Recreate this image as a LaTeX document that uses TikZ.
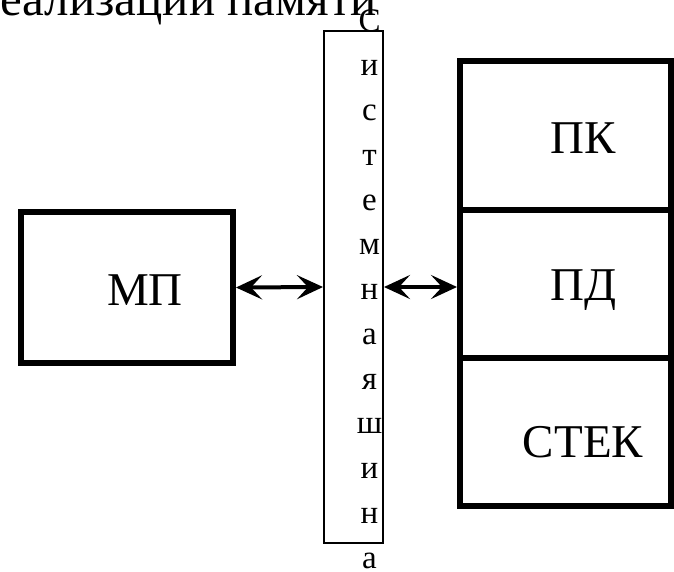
\documentclass[tikz,border=0pt]{standalone}
\usepackage{fontspec}
\setmainfont{Liberation Serif}
\usetikzlibrary{arrows.meta}
\begin{document}
\begin{tikzpicture}[x=1pt,y=-1pt,
  unitbox/.style={draw, line width=6pt, rectangle, inner sep=0pt},
  busbox/.style={draw, line width=2pt, rectangle, inner sep=0pt,
    minimum width=59pt, minimum height=512pt},
  biglabel/.style={font=\fontsize{47pt}{50pt}\selectfont, inner sep=0pt, anchor=base},
  busletter/.style={font=\fontsize{33pt}{36pt}\selectfont, inner sep=0pt, anchor=base},
  link/.style={line width=4pt,
    {Stealth[length=26pt,width=24pt,inset=11pt]}-{Stealth[length=26pt,width=24pt,inset=11pt]}}
]
\useasboundingbox (0,0) rectangle (674,571);
\clip (0,0) rectangle (674,571);

% heading line, running off the top edge
\node[biglabel, anchor=base east, font=\fontsize{49pt}{52pt}\selectfont] (caption) at (377,15) {реализации памяти};

% microprocessor
\node[unitbox, minimum width=212pt, minimum height=151pt] (mp) at (127,287.5) {};
\node[biglabel] (mptext) at (145,305) {МП};

% system bus with its name written letter by letter
\node[busbox] (bus) at (353.5,287) {};
\foreach \ch [count=\i from 0] in {С,и,с,т,е,м,н,а,я,ш,и,н,а}
  \node[busletter] (letter\i) at (369.5,{31+44.75*\i}) {\ch};

% memory: program, data, stack
\node[unitbox, minimum width=211pt, minimum height=149pt] (pk) at (565.5,135.5) {};
\node[unitbox, minimum width=211pt, minimum height=148pt] (pd) at (565.5,284) {};
\node[unitbox, minimum width=211pt, minimum height=148pt] (stack) at (565.5,432) {};
\node[biglabel] (pktext) at (583.5,153) {ПК};
\node[biglabel] (pdtext) at (583.5,300) {ПД};
\node[biglabel] (stacktext) at (583,457) {СТЕК};

% bus connections
\draw[link] (mp.east) -- (bus.west);
\draw[link] (bus.east) -- (bus.east -| pd.west);
\end{tikzpicture}
\end{document}
